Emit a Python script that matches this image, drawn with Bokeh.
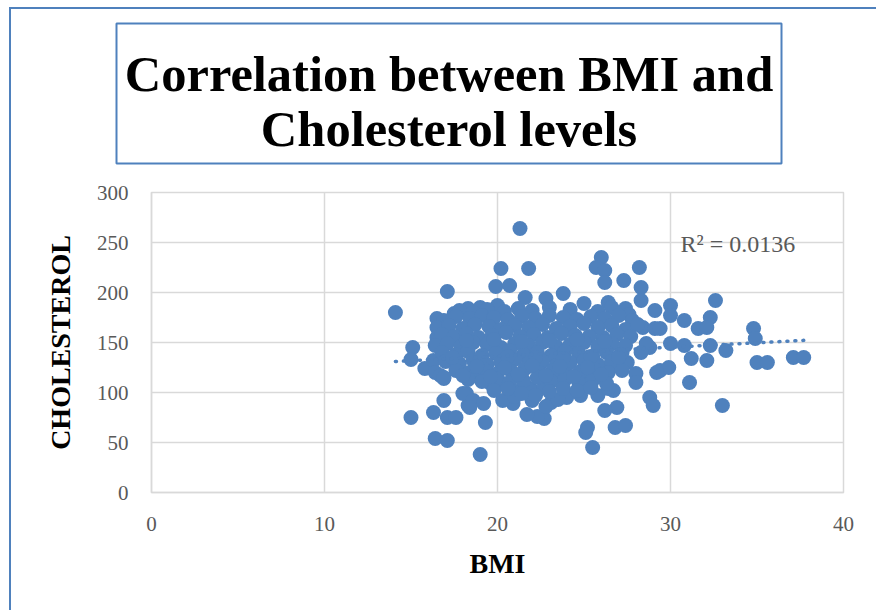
import numpy as np
from bokeh.plotting import figure
from bokeh.layouts import column
from bokeh.models import Range1d, Label, FixedTicker, ColumnDataSource
from bokeh.core.properties import value
from bokeh.embed import file_html
from bokeh.resources import INLINE

# ---------------- data ----------------
title_lines = ["Correlation between BMI and", "Cholesterol levels"]
x_label = "BMI"
y_label = "CHOLESTEROL"
r2_text = "R\u00b2 = 0.0136"
x_ticks = [0, 10, 20, 30, 40]
y_ticks = [0, 50, 100, 150, 200, 250, 300]

# outlying / edge points
bmi_edge = [14.1, 15.1, 15.0, 15.8, 16.9, 16.9, 15.0, 16.3, 17.1, 17.6, 16.4, 17.1, 19.0, 19.3,
            18.3, 18.2, 17.1, 21.3, 20.2, 21.8, 19.9, 20.7, 21.6, 22.8, 23.8, 16.5, 16.5, 16.3,
            16.4, 16.7, 16.9, 18.0, 19.0, 19.6, 20.3, 18.0, 18.6, 19.2, 18.4, 17.5, 18.3, 19.0,
            20.0, 25.0, 26.4, 27.4, 26.1, 29.1, 28.4, 29.1, 26.0, 25.7, 26.2, 26.2, 27.3, 28.2,
            28.3, 28.3, 30.0, 30.0, 30.8, 32.6, 32.3, 31.6, 32.1, 29.4, 34.8, 34.9, 33.2, 32.3,
            31.2, 32.1, 30.0, 30.8, 28.8, 28.6, 29.4, 29.9, 31.1, 35.0, 35.6, 37.1, 37.7, 33.0,
            27.2, 28.3, 26.5, 27.5, 28.0, 28.0, 29.2, 28.8, 29.0, 26.7, 26.9, 26.2, 25.2, 25.1,
            26.8, 27.4, 25.5, 20.9, 20.3, 21.3, 21.9, 22.7, 22.3, 21.7, 23.1, 24.0, 24.8, 25.8,
            26.4, 26.1, 25.0, 23.6, 22.7, 21.0, 22.0, 22.8, 23.5]
chol_edge = [180, 145, 133, 124, 114, 92, 75, 80, 75, 75, 54, 52, 38, 70,
             87, 99, 201, 264, 224, 224, 206, 207, 195, 194, 199, 174, 155, 132,
             120, 117, 115, 119, 114, 109, 109, 99, 92, 89, 85, 179, 184, 185,
             187, 189, 190, 184, 155, 182, 165, 164, 235, 225, 222, 210, 212, 225,
             205, 192, 187, 177, 172, 192, 175, 164, 165, 164, 164, 154, 142, 147,
             134, 132, 149, 147, 145, 149, 122, 125, 110, 130, 130, 135, 135, 87,
             140, 140, 127, 130, 119, 110, 120, 95, 87, 102, 85, 82, 65, 60,
             65, 67, 45, 89, 92, 102, 104, 74, 76, 78, 90, 95, 97, 97,
             104, 115, 115, 115, 105, 96, 92, 86, 93]

# dense core of the cloud
bmi_core = [17.8, 18.6, 19.4, 20.4, 21.2, 22.0, 23.0, 24.2, 25.8, 26.6, 27.6,
            16.9, 17.6, 18.4, 19.1, 19.8, 20.6, 21.4, 22.2, 23.0, 23.8, 24.6, 25.4, 26.2, 27.0, 27.8,
            16.5, 17.2, 18.0, 18.7, 19.5, 20.2, 21.0, 21.8, 22.6, 23.4, 24.2, 25.0, 25.8, 26.6, 27.4, 28.1,
            16.8, 17.5, 18.2, 18.9, 19.7, 20.5, 21.3, 22.1, 22.9, 23.7, 24.5, 25.3, 26.9, 27.7,
            16.4, 17.1, 17.9, 18.6, 19.4, 20.2, 21.0, 21.8, 22.6, 23.4, 24.2, 25.0, 25.8, 26.6, 27.4,
            16.8, 17.6, 18.3, 19.1, 19.9, 20.7, 21.5, 22.3, 23.1, 23.9, 24.7, 25.5, 26.3, 27.1,
            17.0, 17.8, 18.6, 19.4, 20.2, 21.0, 21.8, 22.6, 23.4, 24.2, 25.0, 25.8, 26.6,
            17.6, 18.4, 19.2, 20.0, 20.8, 21.6, 22.4, 23.2, 24.0, 24.8, 25.6, 26.4, 27.2,
            18.3, 19.1, 19.9, 20.7, 21.5, 22.3, 23.1, 23.9, 24.7, 25.5, 26.3,
            19.8, 20.6, 21.4, 22.2, 23.0, 23.8, 24.6, 25.4,
            18.2, 19.8, 21.4, 23.0, 24.6, 26.2, 17.4, 19.0, 20.6, 22.2, 23.8, 25.4, 27.0,
            18.0, 19.6, 21.2, 22.8, 24.4, 26.0, 18.8, 20.4, 22.0, 23.6, 25.2]
chol_core = [182, 180, 183, 181, 184, 182, 185, 183, 181, 185, 178,
             172, 176, 174, 177, 175, 173, 176, 174, 177, 175, 173, 176, 174, 177, 172,
             165, 167, 164, 168, 166, 163, 167, 165, 168, 164, 166, 169, 165, 167, 163, 168,
             158, 156, 159, 155, 157, 160, 156, 158, 155, 159, 157, 156, 158, 156,
             147, 149, 146, 150, 148, 145, 149, 147, 150, 146, 148, 150, 146, 149, 147,
             140, 138, 141, 137, 139, 142, 138, 140, 137, 141, 139, 136, 140, 138,
             131, 129, 132, 128, 130, 133, 129, 131, 127, 130, 132, 128, 131,
             122, 120, 123, 119, 121, 124, 120, 122, 118, 121, 123, 120, 122,
             113, 111, 114, 110, 112, 115, 111, 113, 110, 112, 109,
             102, 104, 99, 97, 101, 104, 102, 105,
             152, 153, 151, 152, 153, 151, 135, 134, 136, 135, 134, 136, 135,
             117, 116, 118, 117, 116, 118, 126, 125, 127, 126, 125]

bmi = bmi_edge + bmi_core
chol = chol_edge + chol_core

# ---------------- styling ----------------
BLUE = "#4F81BD"
GRID = "#D9D9D9"
SERIF = "Liberation Serif"

W, H = 876, 610
OX, OY = 11, 9          # where the framed chart area starts on the page
TITLE_H = 165           # height of the title strip
FRAME_L, FRAME_R, FRAME_T, FRAME_B = 151, 843, 192, 492   # plot area on the page
SHIFT = 48              # the title strip is slid left so its box sits where the reference has it

# ---- title strip: a frameless figure whose data units are page pixels ----
t = figure(width=W - OX, height=TITLE_H, output_backend="svg", toolbar_location=None,
           x_range=Range1d(FRAME_L - SHIFT, FRAME_R - SHIFT), y_range=Range1d(OY + TITLE_H, OY),
           x_axis_type=None, y_axis_type=None,
           min_border_left=0, min_border_right=0, min_border_top=0, min_border_bottom=0,
           styles={"transform": f"translateX(-{SHIFT}px)"})
t.grid.visible = False
t.outline_line_color = None
t.background_fill_alpha = 0
t.border_fill_alpha = 0
t.quad(left=[116], right=[781], top=[23], bottom=[163], fill_color="white",
       line_color=BLUE, line_width=2)
t.text(x=[448.5, 448.5], y=[73, 128], text=title_lines, text_font=value(SERIF),
       text_font_style="bold", text_font_size="50.5px", text_align="center",
       text_baseline="middle", text_color="black")

# ---- main scatter chart ----
p = figure(width=W - OX, height=H - OY - TITLE_H, output_backend="svg", toolbar_location=None,
           x_range=Range1d(0, 40), y_range=Range1d(0, 300),
           min_border_left=FRAME_L - OX, min_border_right=W - FRAME_R,
           min_border_top=FRAME_T - (OY + TITLE_H), min_border_bottom=H - FRAME_B)
p.background_fill_color = "white"
p.border_fill_color = "white"
p.outline_line_color = GRID
p.outline_line_width = 1.5

p.xaxis.ticker = FixedTicker(ticks=x_ticks)
p.yaxis.ticker = FixedTicker(ticks=y_ticks)
p.xaxis.axis_label = x_label
p.yaxis.axis_label = y_label
for ax in (p.xaxis, p.yaxis):
    ax.major_tick_in = 0
    ax.major_tick_out = 0
    ax.minor_tick_line_color = None
    ax.axis_line_color = GRID
    ax.axis_line_width = 1.5
    ax.major_label_text_font = SERIF
    ax.major_label_text_font_size = "21px"
    ax.major_label_text_color = "#595959"
    ax.axis_label_text_font = SERIF
    ax.axis_label_text_font_style = "bold"
    ax.axis_label_text_font_size = "28px"
    ax.axis_label_text_color = "black"
p.yaxis.major_label_standoff = 23
p.yaxis.axis_label_standoff = 18
p.xaxis.major_label_standoff = 24
p.xaxis.axis_label_standoff = 14

p.grid.grid_line_color = GRID
p.grid.grid_line_width = 1.5

src = ColumnDataSource(data=dict(bmi=bmi, chol=chol))
p.scatter(x="bmi", y="chol", source=src, size=15, fill_color=BLUE, line_color=None)

# linear trendline fitted to the data
coef = np.polyfit(bmi, chol, 1)
tx = [min(bmi), max(bmi)]
ty = [float(np.polyval(coef, v)) for v in tx]
p.line(tx, ty, line_color=BLUE, line_width=3.5, line_dash="1 7", line_cap="round")

p.add_layout(Label(x=30.58, y=249, text=r2_text, text_font=SERIF, text_font_size="24px",
                   text_color="#595959", text_baseline="middle", text_align="left"))

layout = column(t, p, spacing=0,
                styles={"margin-left": f"{OX - 2}px", "margin-top": f"{OY - 2}px",
                        "border-left": f"2px solid {BLUE}", "border-top": f"2px solid {BLUE}"})

open("out.html", "w").write(file_html(layout, INLINE))
